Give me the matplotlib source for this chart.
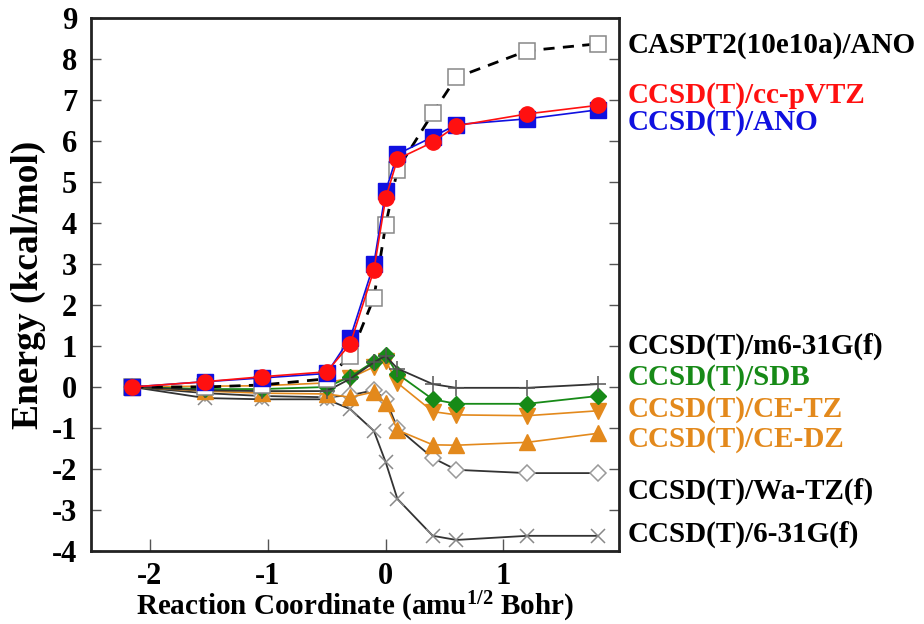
import matplotlib
matplotlib.use("Agg")
import matplotlib.pyplot as plt
from matplotlib.transforms import blended_transform_factory

# ---- data ----
coord = [-2.15, -1.53, -1.05, -0.5, -0.3, -0.1, 0.0, 0.1, 0.4, 0.6, 1.2, 1.8]
caspt2_ano = [0.0, 0.0, 0.05, 0.2, 0.76, 2.17, 3.95, 5.3, 6.68, 7.55, 8.2, 8.37]
ccsdt_ccpvtz = [0.0, 0.13, 0.25, 0.37, 1.05, 2.85, 4.6, 5.56, 5.97, 6.37, 6.66, 6.87]
ccsdt_ano = [0.0, 0.13, 0.22, 0.33, 1.2, 3.0, 4.78, 5.68, 6.1, 6.4, 6.54, 6.76]
ccsdt_m631gf = [0.0, -0.08, -0.1, -0.1, 0.2, 0.6, 0.76, 0.45, 0.07, -0.02, -0.02, 0.07]
ccsdt_sdb = [0.0, -0.05, -0.05, 0.0, 0.25, 0.62, 0.78, 0.32, -0.3, -0.41, -0.41, -0.22]
ccsdt_cetz = [0.0, 0.02, 0.03, 0.1, 0.22, 0.49, 0.64, 0.1, -0.6, -0.68, -0.7, -0.58]
ccsdt_cedz = [0.0, -0.1, -0.15, -0.17, -0.25, -0.12, -0.4, -1.05, -1.41, -1.42, -1.35, -1.13]
ccsdt_watzf = [0.0, -0.15, -0.22, -0.25, -0.2, -0.08, -0.3, -1.0, -1.73, -2.02, -2.1, -2.1]
ccsdt_631gf = [0.0, -0.27, -0.3, -0.3, -0.54, -1.07, -1.83, -2.73, -3.63, -3.73, -3.63, -3.63]

labels = ["CASPT2(10e10a)/ANO", "CCSD(T)/cc-pVTZ", "CCSD(T)/ANO",
          "CCSD(T)/m6-31G(f)", "CCSD(T)/SDB", "CCSD(T)/CE-TZ",
          "CCSD(T)/CE-DZ", "CCSD(T)/Wa-TZ(f)", "CCSD(T)/6-31G(f)"]
xticks = [-2, -1, 0, 1]
yticks = list(range(-4, 10))

# ---- layout / style ----
label_y = [8.32, 7.12, 6.44, 1.0, 0.24, -0.54, -1.29, -2.54, -3.59]
ORANGE = "#E3891C"
GREEN = "#178A17"
RED = "#FF1010"
BLUE = "#1010E0"
label_colors = ["black", RED, BLUE, "black", GREEN, ORANGE, ORANGE, "black", "black"]

plt.rcParams['font.family'] = ['Liberation Serif', 'DejaVu Serif']
plt.rcParams['font.weight'] = 'bold'
plt.rcParams['axes.unicode_minus'] = False
plt.rcParams['mathtext.fontset'] = 'custom'
plt.rcParams['mathtext.rm'] = 'Liberation Serif:bold'
plt.rcParams['mathtext.bf'] = 'Liberation Serif:bold'
plt.rcParams['mathtext.it'] = 'Liberation Serif:bold'

fig = plt.figure(figsize=(9.24, 6.24), dpi=100)
ax = fig.add_axes([91/924, 1-551/624, (619-91)/924, (551-18)/624])

# lower group
ax.plot(coord, ccsdt_631gf, color="#333333", lw=1.3, marker="x", ms=10,
        mec="#888888", mew=1.1, zorder=3)
ax.plot(coord, ccsdt_watzf, color="#333333", lw=1.3, marker="D", ms=8,
        mfc="white", mec="#999999", mew=1.1, zorder=3)
ax.plot(coord, ccsdt_cedz, color=ORANGE, lw=1.2, marker="^", ms=11,
        mfc=ORANGE, mec=ORANGE, zorder=4)
ax.plot(coord, ccsdt_cetz, color=ORANGE, lw=1.2, marker="v", ms=11,
        mfc=ORANGE, mec=ORANGE, zorder=4)
ax.plot(coord, ccsdt_sdb, color=GREEN, lw=1.3, marker="D", ms=8,
        mfc=GREEN, mec=GREEN, zorder=4)
ax.plot(coord, ccsdt_m631gf, color="#333333", lw=1.3, marker="+", ms=12,
        mec="#555555", mew=1.1, zorder=4)

# upper group
ax.plot(coord, caspt2_ano, color="black", lw=2.0, ls=(0, (4, 3)), marker="s",
        ms=12, mfc="white", mec="#888888", mew=1.1, zorder=5)
ax.plot(coord, ccsdt_ano, color=BLUE, lw=1.2, marker="s", ms=11,
        mfc=BLUE, mec=BLUE, zorder=6)
ax.plot(coord, ccsdt_ccpvtz, color=RED, lw=1.2, marker="o", ms=11,
        mfc=RED, mec=RED, zorder=7)

ax.set_xlim(-2.5, 1.98)
ax.set_ylim(-4, 9)
ax.set_xticks(xticks)
ax.set_yticks(yticks)
ax.tick_params(axis='both', direction='in', labelsize=22, width=1, color="#555555")
ax.tick_params(axis='y', length=7, right=True, pad=10)
ax.tick_params(axis='x', length=9, pad=8)
for lab in ax.get_xticklabels() + ax.get_yticklabels():
    lab.set_fontweight('bold')
for sp in ax.spines.values():
    sp.set_linewidth(2.0)
    sp.set_color("#222222")

ax.set_xlabel("Reaction Coordinate (amu$^{1/2}$ Bohr)", fontsize=21,
              fontweight='bold', labelpad=-1)
ax.set_ylabel("Energy (kcal/mol)", fontsize=27, fontweight='bold', labelpad=4)

trans = blended_transform_factory(ax.transAxes, ax.transData)
for lab, yy, c in zip(labels, label_y, label_colors):
    ax.text(1.017, yy, lab, transform=trans, color=c, fontsize=21,
            fontweight='bold', va='center', ha='left', clip_on=False)

fig.savefig("out.png", dpi=100)
